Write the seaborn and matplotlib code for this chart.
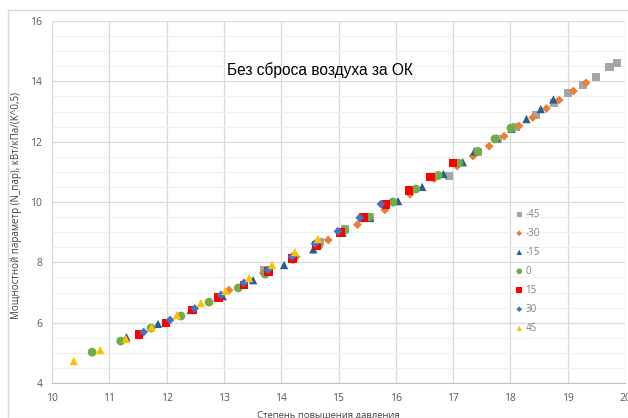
import matplotlib
matplotlib.use("Agg")
import matplotlib.pyplot as plt
import seaborn as sns
from matplotlib.patches import Rectangle
from matplotlib.ticker import MultipleLocator

# Данные по сериям (угол, град)
labels = ["-45", "-30", "-15", "0", "15", "30", "45"]

x_m45 = [13.7, 14.68, 15.11, 15.55, 16.93, 17.43, 17.78, 18.1, 18.45, 18.76, 19.0, 19.26, 19.5, 19.73, 19.86]
y_m45 = [7.74, 8.67, 9.1, 9.5, 10.86, 11.67, 12.1, 12.5, 12.88, 13.27, 13.6, 13.88, 14.15, 14.47, 14.62]

x_m30 = [13.09, 13.69, 14.26, 14.82, 15.33, 15.81, 16.25, 16.67, 17.07, 17.35, 17.63, 17.89, 18.15,
         18.39, 18.63, 18.85, 19.1, 19.32]
y_m30 = [7.08, 7.64, 8.18, 8.74, 9.25, 9.74, 10.26, 10.77, 11.19, 11.52, 11.85, 12.18, 12.52,
         12.8, 13.1, 13.38, 13.68, 13.95]

x_m15 = [11.3, 11.85, 12.42, 12.98, 13.51, 14.05, 14.56, 15.07, 15.55, 16.04, 16.46, 16.83, 17.17,
         17.37, 17.76, 18.02, 18.28, 18.53, 18.75]
y_m15 = [5.52, 5.96, 6.42, 6.88, 7.41, 7.91, 8.43, 8.98, 9.47, 10.03, 10.5, 10.93, 11.32,
         11.68, 12.12, 12.43, 12.75, 13.08, 13.4]

x_0 = [10.7, 11.2, 11.73, 12.25, 12.74, 13.25, 13.72, 14.2, 14.65, 15.11, 15.53, 15.95, 16.35, 16.74,
       17.1, 17.43, 17.73, 18.01]
y_0 = [5.02, 5.39, 5.82, 6.22, 6.68, 7.15, 7.61, 8.1, 8.55, 9.07, 9.5, 10.0, 10.43, 10.88,
       11.29, 11.68, 12.09, 12.45]

x_15 = [11.52, 11.99, 12.45, 12.91, 13.35, 13.78, 14.2, 14.62, 15.03, 15.43, 15.83, 16.23, 16.61, 17.0]
y_15 = [5.6, 5.99, 6.42, 6.84, 7.25, 7.7, 8.12, 8.56, 9.0, 9.48, 9.92, 10.37, 10.83, 11.29]

x_30 = [11.6, 12.06, 12.49, 12.95, 13.35, 13.77, 14.19, 14.59, 14.99, 15.37, 15.74]
y_30 = [5.69, 6.09, 6.47, 6.92, 7.32, 7.75, 8.19, 8.62, 9.03, 9.48, 9.93]

x_45 = [10.38, 10.84, 11.29, 11.74, 12.18, 12.6, 13.03, 13.44, 13.84, 14.24, 14.64]
y_45 = [4.73, 5.09, 5.46, 5.85, 6.25, 6.65, 7.05, 7.48, 7.91, 8.34, 8.77]

xs = [x_m45, x_m30, x_m15, x_0, x_15, x_30, x_45]
ys = [y_m45, y_m30, y_m15, y_0, y_15, y_30, y_45]

colors = ["#A5A5A5", "#ED7D31", "#255E91", "#70AD47", "#FF0000", "#4472C4", "#FFC000"]
markers = ["s", "D", "^", "o", "s", "D", "^"]
sizes = [34, 20, 36, 40, 40, 20, 36]

sns.set_style("white")
plt.rcParams["font.family"] = ["Open Sans", "DejaVu Sans"]

fig = plt.figure(figsize=(6.28, 4.18), dpi=100)
ax = fig.add_axes([52 / 628, 1 - 383 / 418, 573 / 628, 362 / 418])

# рамка диаграммы как в Excel
fig.patches.append(Rectangle((8 / 628, 0), 1, 1 - 10 / 418, transform=fig.transFigure,
                             fill=False, edgecolor="#d9d9d9", linewidth=1))

for i in range(len(labels)):
    sns.scatterplot(x=xs[i], y=ys[i], marker=markers[i], s=sizes[i], color=colors[i],
                    edgecolor="none", linewidth=0, label=labels[i], ax=ax, zorder=3)

ax.set_xlim(10, 20)
ax.set_ylim(4, 16)
ax.xaxis.set_major_locator(MultipleLocator(1))
ax.yaxis.set_major_locator(MultipleLocator(2))
ax.yaxis.set_minor_locator(MultipleLocator(0.5))
ax.grid(which="major", color="#d9d9d9", linewidth=0.9)
ax.grid(which="minor", axis="y", color="#efefef", linewidth=0.8)
ax.set_axisbelow(True)
for side in ["top", "right", "left"]:
    ax.spines[side].set_visible(False)
ax.spines["bottom"].set_color("#bfbfbf")
ax.tick_params(axis="both", which="both", length=0, labelsize=7.5, colors="#595959", pad=7)

ax.set_xlabel("Степень повышения давления", fontsize=6.8, color="#404040")
ax.set_ylabel("Мощностной параметр (N_пар), кВт/кПа/(K^0,5)", fontsize=7, color="#404040")
ax.xaxis.set_label_coords(0.482, -0.075)
ax.yaxis.set_label_coords(-0.053, 0.49)

ax.text(0.468, 0.865, "Без сброса воздуха за ОК", transform=ax.transAxes, ha="center", va="center",
        fontsize=11.2, family=["Liberation Sans", "DejaVu Sans"], color="#000000")

leg = ax.legend(loc="upper left", bbox_to_anchor=(0.79, 0.505), frameon=False, fontsize=7,
                labelspacing=0.82, handletextpad=0.05, handlelength=1.2, markerscale=0.65)
for t in leg.get_texts():
    t.set_color("#808080")

fig.savefig("out.png", dpi=100)
